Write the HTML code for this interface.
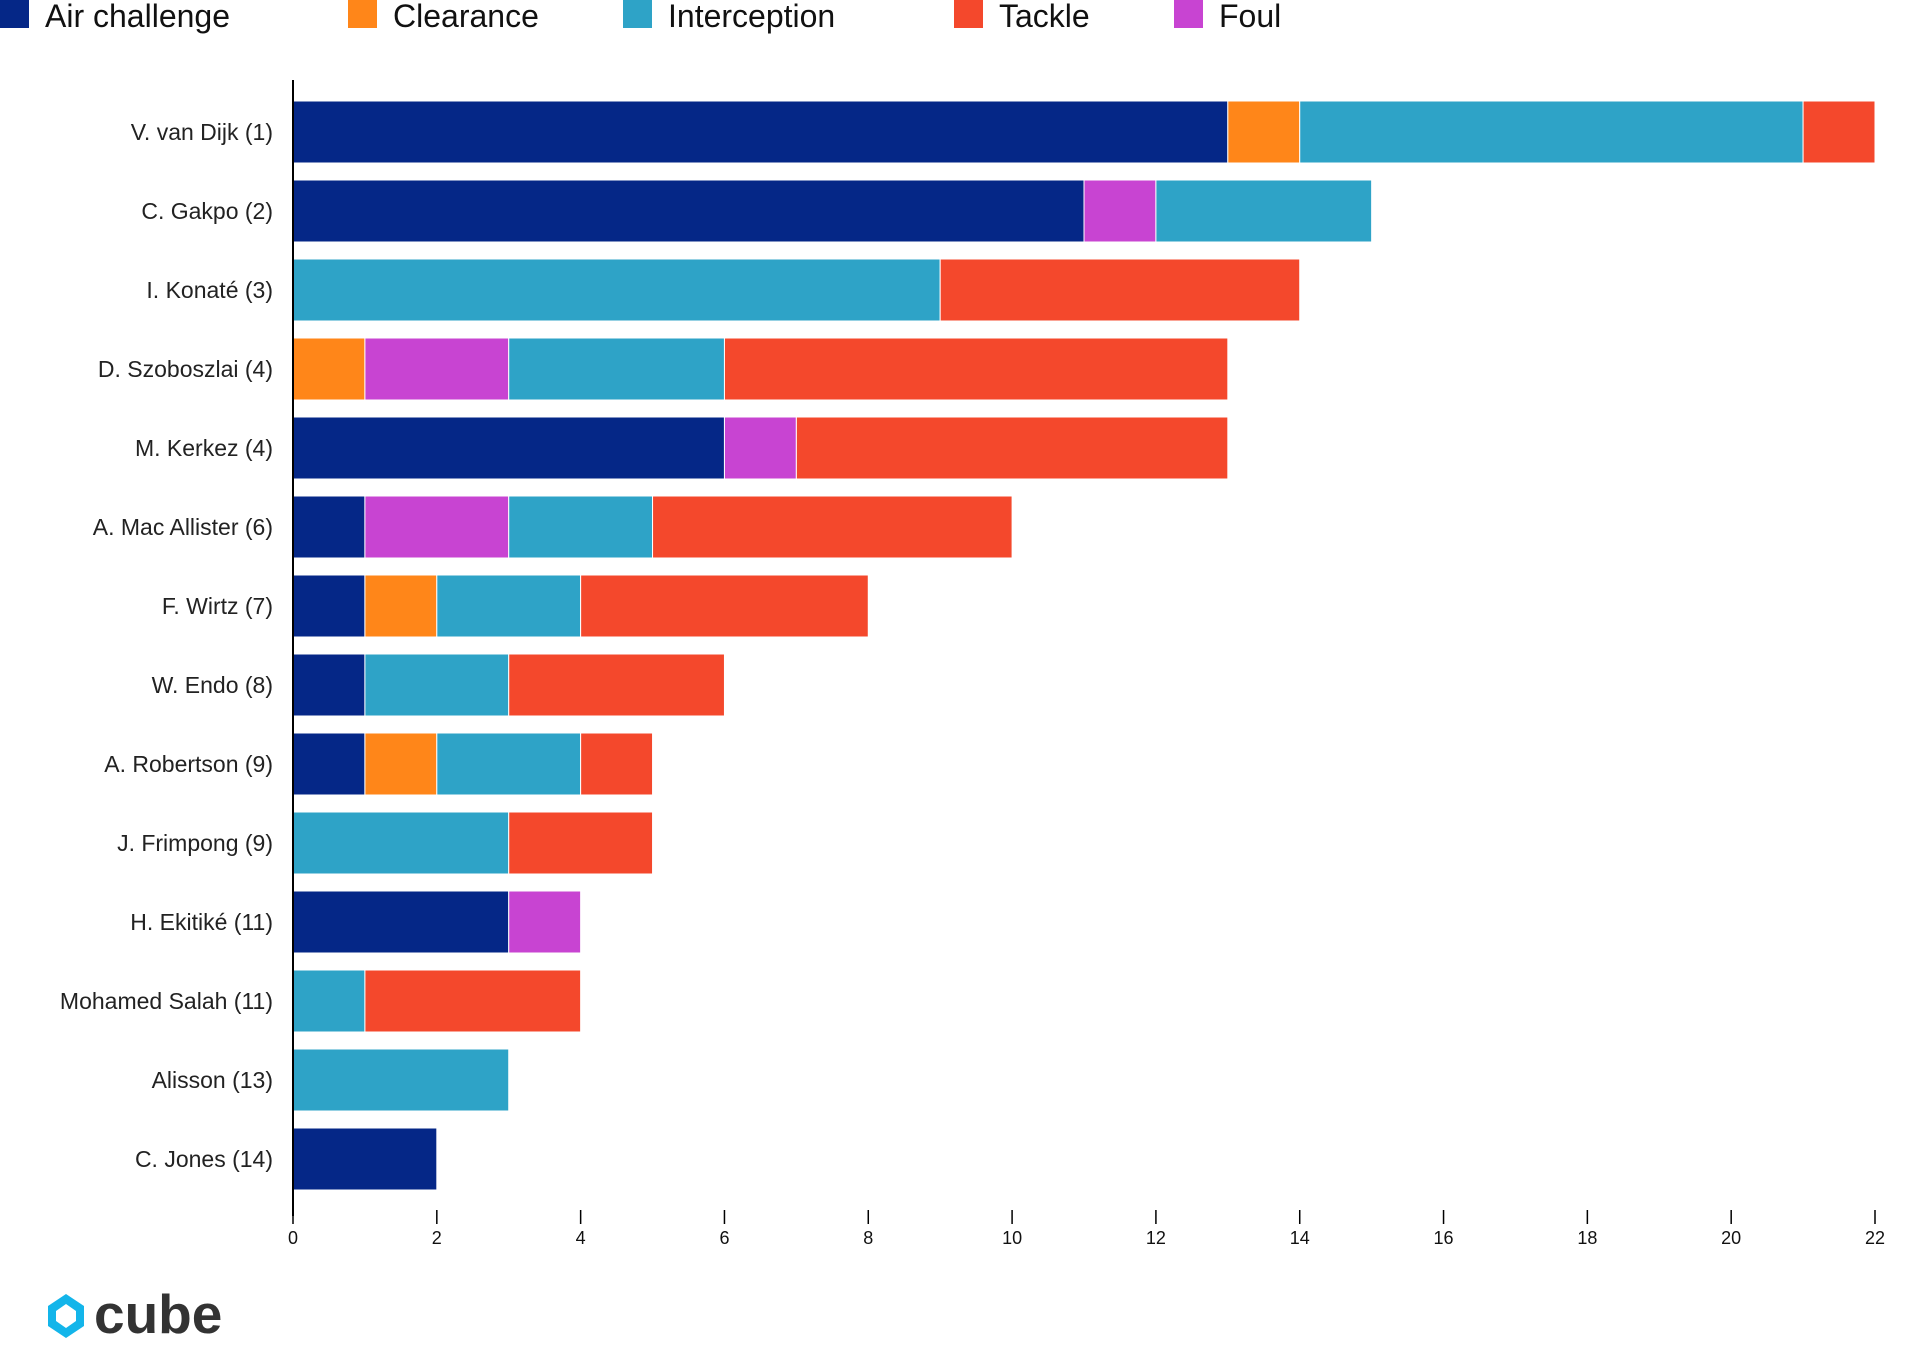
<!DOCTYPE html>
<html><head><meta charset="utf-8"><style>
body{margin:0;background:#fff;width:1920px;height:1344px;overflow:hidden;font-family:"Liberation Sans","DejaVu Sans",sans-serif}
</style></head><body>
<svg id="chart" width="1920" height="1344" xmlns="http://www.w3.org/2000/svg"></svg>
<script>
const players=["V. van Dijk (1)","C. Gakpo (2)","I. Konaté (3)","D. Szoboszlai (4)","M. Kerkez (4)","A. Mac Allister (6)","F. Wirtz (7)","W. Endo (8)","A. Robertson (9)","J. Frimpong (9)","H. Ekitiké (11)","Mohamed Salah (11)","Alisson (13)","C. Jones (14)"];
const airChallenge=[13,11,0,0,6,1,1,1,1,0,3,0,0,2];
const clearance=[1,0,0,1,0,0,1,0,1,0,0,0,0,0];
const foul=[0,1,0,2,1,2,0,0,0,0,1,0,0,0];
const interception=[7,3,9,3,0,2,2,2,2,3,0,1,3,0];
const tackle=[1,0,5,7,6,5,4,3,1,2,0,3,0,0];
const xTicks=[0,2,4,6,8,10,12,14,16,18,20,22];
const legendLabels=["Air challenge","Clearance","Interception","Tackle","Foul"];

const NS="http://www.w3.org/2000/svg";
const svg=document.getElementById('chart');
function mk(t,a){const e=document.createElementNS(NS,t);for(const k in a)e.setAttribute(k,a[k]);svg.appendChild(e);return e;}
const x0=293,x1=1875,xMax=22;
const xs=v=>x0+(x1-x0)*v/xMax;
const rowTop=101,rowPitch=79.0,barH=62;
const ys=i=>rowTop+i*rowPitch;
const series=[
 {name:"air-challenge",vals:airChallenge,color:"#052787"},
 {name:"clearance",vals:clearance,color:"#ff8619"},
 {name:"foul",vals:foul,color:"#c844d2"},
 {name:"interception",vals:interception,color:"#2ea3c7"},
 {name:"tackle",vals:tackle,color:"#f4482c"}];
const legendColors={"Air challenge":"#052787","Clearance":"#ff8619","Interception":"#2ea3c7","Tackle":"#f4482c","Foul":"#c844d2"};
const legendX=[0,348,623,954,1174];

players.forEach((p,i)=>{
  let acc=0;
  series.forEach(s=>{
    const v=s.vals[i];
    if(v>0){
      const r=mk('rect',{x:xs(acc),y:ys(i),width:xs(acc+v)-xs(acc),height:barH,fill:s.color,stroke:'#fff','stroke-width':1});
      
      
    }
    acc+=v;
  });
  const t=mk('text',{x:273,y:ys(i)+barH/2+8,'text-anchor':'end','font-size':23,fill:'#222'});
  t.textContent=p;
  
  
});
const ax=mk('line',{x1:x0,y1:80,x2:x0,y2:1216,stroke:'#000','stroke-width':2});


xTicks.forEach(v=>{
  const l=mk('line',{x1:xs(v),y1:1210,x2:xs(v),y2:1224,stroke:'#000','stroke-width':1.5});
  
  
  const t=mk('text',{x:xs(v),y:1244,'text-anchor':'middle','font-size':18,fill:'#111'});
  t.textContent=v;
  
  
});
legendLabels.forEach((n,i)=>{
  const r=mk('rect',{x:legendX[i],y:0,width:29,height:28,fill:legendColors[n]});
  
  
  const t=mk('text',{x:legendX[i]+45,y:27,'font-size':32,fill:'#111'});
  t.textContent=n;
  
  
});
const logo=mk('path',{d:'M66 1294 L84 1306 L84 1326 L66 1338 L48 1326 L48 1306 Z M66 1304 L76 1311 L76 1321 L66 1328 L56 1321 L56 1311 Z',fill:'#13b5ea','fill-rule':'evenodd'});


const lt=mk('text',{x:94,y:1333,'font-size':55,'font-weight':'bold',fill:'#333'});
lt.textContent='cube';


</script>
</body></html>
